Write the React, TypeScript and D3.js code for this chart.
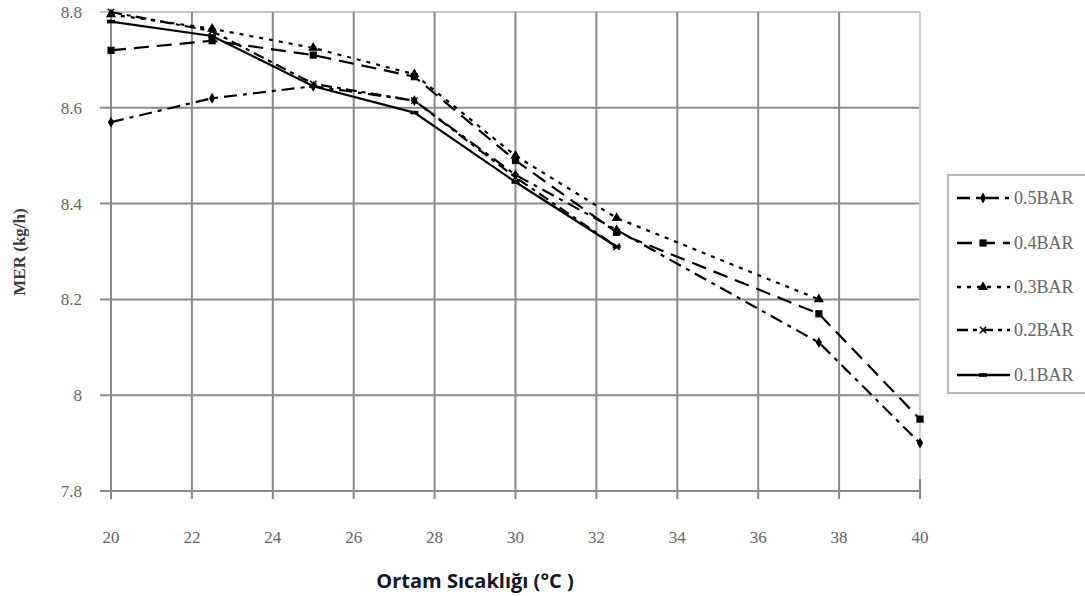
import React from "react";
import * as d3 from "d3";

// Ambient temperature (°C) at which MER was measured
const temps = [20, 22.5, 25, 27.5, 30, 32.5, 37.5, 40];

// MER (kg/h) per pressure setting
const bar05 = [8.57, 8.62, 8.645, 8.615, 8.46, 8.345, 8.11, 7.9];
const bar04 = [8.72, 8.74, 8.71, 8.665, 8.49, 8.34, 8.17, 7.95];
const bar03 = [8.795, 8.765, 8.725, 8.67, 8.5, 8.37, 8.2];
const bar02 = [8.8, 8.76, 8.65, 8.615, 8.455, 8.31];
const bar01 = [8.78, 8.75, 8.645, 8.59, 8.445, 8.31];

const xTicks = [20, 22, 24, 26, 28, 30, 32, 34, 36, 38, 40];
const yTicks = [7.8, 8, 8.2, 8.4, 8.6, 8.8];
const yTickLabels = ["7.8", "8", "8.2", "8.4", "8.6", "8.8"];

type Marker = "diamond" | "square" | "triangle" | "cross" | "dash";

const series: { name: string; values: number[]; dash: string; marker: Marker }[] = [
  { name: "0.5BAR", values: bar05, dash: "13 6 4 6", marker: "diamond" },
  { name: "0.4BAR", values: bar04, dash: "15 8", marker: "square" },
  { name: "0.3BAR", values: bar03, dash: "4 6", marker: "triangle" },
  { name: "0.2BAR", values: bar02, dash: "11 5 4 5", marker: "cross" },
  { name: "0.1BAR", values: bar01, dash: "none", marker: "dash" },
];

const W = 1085;
const H = 596;

const x = d3.scaleLinear().domain([20, 40]).range([111, 920]);
const y = d3.scaleLinear().domain([7.8, 8.8]).range([491, 12]);

const serif = "'Liberation Serif', 'Times New Roman', serif";

function MarkerShape({ type, cx, cy }: { type: Marker; cx: number; cy: number }) {
  if (type === "cross") {
    const r = 3.2;
    return (
      <path
        d={`M${cx - r},${cy - r}L${cx + r},${cy + r}M${cx - r},${cy + r}L${cx + r},${cy - r}`}
        stroke="#000"
        strokeWidth={1.4}
      />
    );
  }
  if (type === "dash") {
    return <rect x={cx - 4} y={cy - 1.8} width={8} height={3.6} fill="#000" />;
  }
  const sym =
    type === "diamond" ? d3.symbolDiamond : type === "square" ? d3.symbolSquare : d3.symbolTriangle;
  const size = type === "diamond" ? 34 : type === "square" ? 52 : 44;
  const d = d3.symbol().type(sym).size(size)() || "";
  return <path d={d} transform={`translate(${cx},${cy})`} fill="#000" />;
}

export default function App() {
  const line = d3
    .line<[number, number]>()
    .x((d) => x(d[0]))
    .y((d) => y(d[1]));

  const x0 = x(20);
  const x1 = x(40);
  const yTop = y(8.8);
  const yBot = y(7.8);

  const legendX = 948;
  const legendTop = 175;
  const legendRows = [198, 243, 287, 330, 375];

  return (
    <div style={{ position: "absolute", left: 0, top: 0 }}>
      <svg width={W} height={H} style={{ display: "block", background: "#fff" }}>
        {/* horizontal grid lines with left tick marks */}
        {yTicks.map((t, i) => (
          <line
            key={`h${i}`}
            x1={x0 - 11}
            x2={x1}
            y1={y(t)}
            y2={y(t)}
            stroke={t === 8.8 ? "#c4c4c4" : "#8a8a8a"}
            strokeWidth={2}
          />
        ))}
        {/* vertical grid lines with bottom tick marks */}
        {xTicks.map((t, i) => (
          <line
            key={`v${i}`}
            x1={x(t)}
            x2={x(t)}
            y1={yTop}
            y2={yBot + 8}
            stroke={t === 40 ? "#cfcfcf" : "#8a8a8a"}
            strokeWidth={2}
          />
        ))}
        <line x1={x1} x2={x1} y1={yBot - 12} y2={yBot + 8} stroke="#8a8a8a" strokeWidth={2} />

        {/* y tick labels */}
        {yTicks.map((t, i) => (
          <text
            key={`yl${i}`}
            x={82}
            y={y(t)}
            dy="0.35em"
            textAnchor="end"
            fontFamily={serif}
            fontSize={17}
            fill="#666"
          >
            {yTickLabels[i]}
          </text>
        ))}
        {/* x tick labels */}
        {xTicks.map((t, i) => (
          <text
            key={`xl${i}`}
            x={x(t)}
            y={537}
            dy="0.35em"
            textAnchor="middle"
            fontFamily={serif}
            fontSize={17}
            fill="#666"
          >
            {t}
          </text>
        ))}

        {/* series lines */}
        {series.map((s) => {
          const pts: [number, number][] = s.values.map((v, i) => [temps[i], v]);
          return (
            <g key={s.name}>
              <path
                d={line(pts) || ""}
                fill="none"
                stroke="#000"
                strokeWidth={2.2}
                strokeDasharray={s.dash}
              />
              {pts.map((p, i) => (
                <MarkerShape key={i} type={s.marker} cx={x(p[0])} cy={y(p[1])} />
              ))}
            </g>
          );
        })}

        {/* axis titles */}
        <text
          transform={`translate(19,252) rotate(-90)`}
          textAnchor="middle"
          dy="0.35em"
          fontFamily={serif}
          fontWeight="bold"
          fontSize={17}
          fill="#3a3a3a"
        >
          MER (kg/h)
        </text>
        <text
          x={475}
          y={581}
          dy="0.35em"
          textAnchor="middle"
          fontFamily="'Open Sans', 'Noto Sans', sans-serif"
          fontWeight="bold"
          fontSize={20}
          fill="#15152a"
        >
          Ortam Sıcaklığı (°C )
        </text>

        {/* legend */}
        <rect
          x={legendX}
          y={legendTop}
          width={W - legendX + 10}
          height={393 - legendTop}
          fill="#fff"
          stroke="#a0a0a0"
          strokeWidth={1.5}
        />
        {series.map((s, i) => {
          const ly = legendRows[i];
          return (
            <g key={`lg${s.name}`}>
              <line
                x1={957}
                x2={1010}
                y1={ly}
                y2={ly}
                stroke="#000"
                strokeWidth={2.4}
                strokeDasharray={s.dash}
              />
              <MarkerShape type={s.marker} cx={983} cy={ly} />
              <text
                x={1014}
                y={ly}
                dy="0.35em"
                fontFamily={serif}
                fontSize={18}
                fill="#666"
              >
                {s.name}
              </text>
            </g>
          );
        })}
      </svg>
    </div>
  );
}
